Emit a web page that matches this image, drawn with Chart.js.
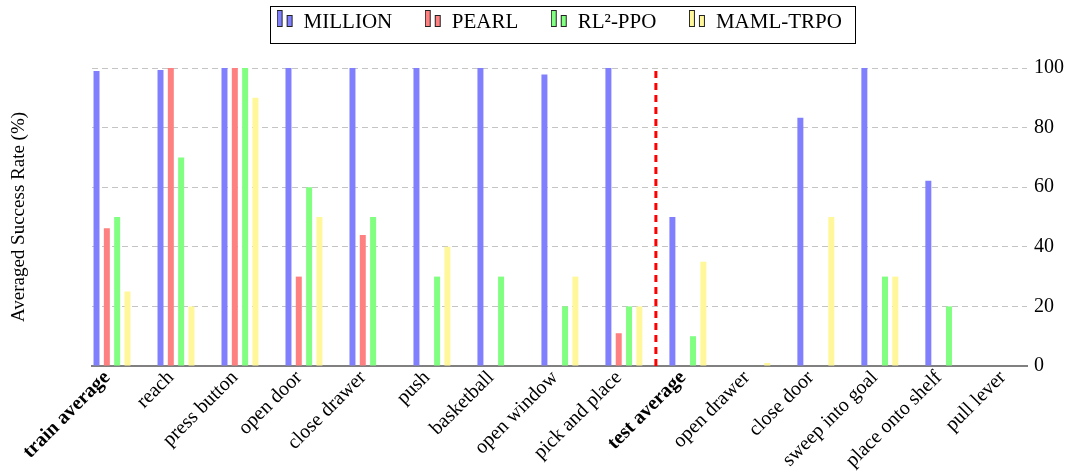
<!DOCTYPE html>
<html>
<head>
<meta charset="utf-8">
<script src="https://cdn.jsdelivr.net/npm/chart.js@4"></script>
<style>
  html, body { margin: 0; padding: 0; background: #ffffff; }
  #wrap { width: 1070px; height: 476px; position: relative; }
</style>
</head>
<body>
<div id="wrap"><canvas id="c" width="1070" height="476"></canvas></div>
<script>
// ---------------- data ----------------
const categories = ['train average', 'reach', 'press button', 'open door', 'close drawer', 'push',
  'basketball', 'open window', 'pick and place', 'test average', 'open drawer', 'close door',
  'sweep into goal', 'place onto shelf', 'pull lever'];
const boldCategories = ['train average', 'test average'];
const seriesNames = ['MILLION', 'PEARL', 'RL²-PPO', 'MAML-TRPO'];
const million  = [99, 99.3, 100, 100, 100, 100, 100, 97.8, 100, 50, 0, 83.3, 100, 62.2, 0];
const pearl    = [46.2, 100, 100, 30, 44, 0, 0, 0, 11, 0, 0, 0, 0, 0, 0];
const rl2ppo   = [50, 70, 100, 60, 50, 30, 30, 20, 20, 10, 0, 0, 30, 20, 0];
const mamlTrpo = [25, 20, 90, 50, 0, 40, 0, 30, 20, 35, 1, 50, 30, 0, 0];
const yTicks = [0, 20, 40, 60, 80, 100];
const separatorAt = 8.5;   // between "pick and place" and "test average"

// ---------------- styles ----------------
const FONT = "'Liberation Serif', 'Times New Roman', serif";
const colors = ['#8080ff', '#ff8080', '#80ff80', '#fff799'];
const seriesValues = [million, pearl, rl2ppo, mamlTrpo];

function makeIcon(color) {
  const c = document.createElement('canvas');
  c.width = 17; c.height = 25;
  const g = c.getContext('2d');
  g.fillStyle = color; g.strokeStyle = '#222'; g.lineWidth = 1;
  g.fillRect(0.5, 0.5, 5, 16); g.strokeRect(0.5, 0.5, 5, 16);
  g.fillRect(10.5, 5.5, 5, 11); g.strokeRect(10.5, 5.5, 5, 11);
  return c;
}
const icons = colors.map(makeIcon);

const CHART_TOP = 68;
const LAYOUT_TOP = -21;

const legendFrame = {
  id: 'legendFrame',
  beforeLayout(chart) {
    const lg = chart.legend;
    if (lg && !lg._patched) {
      const f = lg.fit;
      lg.fit = function () { f.call(this); this.height = CHART_TOP - LAYOUT_TOP; };
      lg._patched = true;
    }
  },
  afterDraw(chart) {
    const hb = chart.legend && chart.legend.legendHitBoxes;
    if (!hb || !hb.length) return;
    const first = hb[0], last = hb[hb.length - 1];
    const left = Math.round(first.left - 7) + 0.5;
    const right = Math.round(last.left + last.width + 13) + 0.5;
    const top = Math.round(first.top - 6.5) + 0.5;
    const bottom = Math.round(first.top + 30.5) + 0.5;
    const ctx = chart.ctx;
    ctx.save();
    ctx.strokeStyle = '#000'; ctx.lineWidth = 1;
    ctx.strokeRect(left, top, right - left, bottom - top);
    ctx.restore();
  }
};

const datasets = seriesNames.map((name, i) => ({
  type: 'bar',
  label: name,
  data: seriesValues[i].map((v, k) => ({ x: k, y: v })),
  backgroundColor: colors[i],
  borderWidth: 0,
  categoryPercentage: 0.645,
  barPercentage: 0.58,
  xAxisID: 'x',
  yAxisID: 'y'
}));
datasets.push({
  type: 'line',
  label: 'separator',
  data: [{ x: separatorAt, y: 0 }, { x: separatorAt, y: 100 }],
  borderColor: '#ff0000',
  borderWidth: 3,
  borderDash: [7, 5],
  pointRadius: 0,
  fill: false,
  xAxisID: 'x',
  yAxisID: 'y'
});

new Chart(document.getElementById('c'), {
  type: 'bar',
  data: { datasets },
  plugins: [legendFrame],
  options: {
    responsive: false,
    animation: false,
    devicePixelRatio: 1,
    layout: { padding: { top: LAYOUT_TOP, left: 0, right: 0, bottom: 0 } },
    plugins: {
      tooltip: { enabled: false },
      legend: {
        position: 'top',
        fullSize: false,
        labels: {
          font: { family: FONT, size: 21 },
          color: '#000',
          padding: 33,
          usePointStyle: true,
          pointStyleWidth: 16,
          generateLabels: () => seriesNames.map((name, i) => ({
            text: name, pointStyle: icons[i], fillStyle: colors[i], strokeStyle: '#222',
            lineWidth: 0, hidden: false, datasetIndex: i, fontColor: '#000'
          }))
        }
      }
    },
    scales: {
      x: {
        type: 'linear',
        offset: false,
        bounds: 'data',
        min: -0.3125,
        max: 14.3,
        afterBuildTicks: s => { s.ticks = categories.map((_, i) => ({ value: i })); },
        ticks: {
          autoSkip: false, minRotation: 45, maxRotation: 45, padding: 0, labelOffset: -5, color: '#000',
          callback: v => categories[v],
          font: ctx => ({ family: FONT, size: 20,
            weight: (ctx.index !== undefined && boldCategories.includes(categories[ctx.index])) ? 'bold' : 'normal' })
        },
        grid: { drawOnChartArea: false, drawTicks: false },
        border: { display: true, color: '#808080', width: 2 },
        afterFit: s => { s.height = 110; }
      },
      y: {
        position: 'right',
        min: 0, max: 100,
        afterBuildTicks: s => { s.ticks = yTicks.map(v => ({ value: v })); },
        ticks: { color: '#000', padding: 7, font: { family: FONT, size: 20 } },
        grid: {
          drawTicks: false,
          lineWidth: 1,
          color: ctx => (ctx.tick && ctx.tick.value === 0) ? 'rgba(0,0,0,0)' : '#c4c4c4'
        },
        border: { display: false, dash: [6, 4] },
        afterFit: s => { s.width = 43; }
      },
      yL: {
        position: 'left',
        min: 0, max: 100,
        ticks: { display: false },
        grid: { display: false, drawTicks: false },
        border: { display: false },
        title: { display: true, text: 'Averaged Success Rate (%)', color: '#000',
          font: { family: FONT, size: 19 }, padding: { top: 8, bottom: 0 } },
        afterFit: s => { s.width = 92; }
      }
    }
  }
});
</script>
</body>
</html>
